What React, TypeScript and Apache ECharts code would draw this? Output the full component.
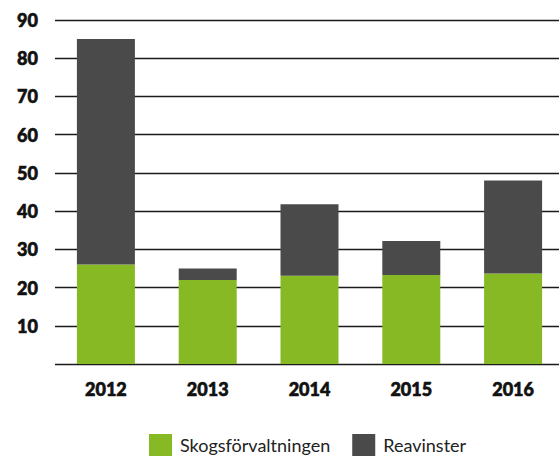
import React, { useEffect, useRef } from "react";
import * as echarts from "echarts";

const categories = ["2012", "2013", "2014", "2015", "2016"];
const skogsforvaltningen = [26.0, 22.0, 23.1, 23.3, 23.7];
const reavinster = [59.0, 3.0, 18.7, 8.9, 24.3];
const yTicks = { min: 0, max: 90, interval: 10 };

export default function App() {
  const ref = useRef<HTMLDivElement>(null);
  useEffect(() => {
    document.body.style.margin = "0";
    const chart = echarts.init(ref.current!, null, { renderer: "svg" });
    const axisFont = {
      fontFamily: "Lato",
      fontWeight: 900,
      fontSize: 18,
      color: "#111111",
      textBorderColor: "#111111",
      textBorderWidth: 0.6,
    };
    chart.setOption({
      animation: false,
      backgroundColor: "#ffffff",
      grid: { left: 55, right: 11, top: 20, bottom: 93, containLabel: false },
      legend: {
        left: 149,
        top: 434,
        padding: 0,
        itemWidth: 23,
        itemHeight: 22,
        itemGap: 22,
        icon: "rect",
        textStyle: { fontFamily: "Lato", fontSize: 18, color: "#222222", padding: [0, 0, 0, 3] },
        data: ["Skogsförvaltningen", "Reavinster"],
      },
      xAxis: {
        type: "category",
        data: categories,
        axisTick: { show: false },
        axisLine: { show: false },
        axisLabel: { margin: 16, ...axisFont },
      },
      yAxis: {
        type: "value",
        min: yTicks.min,
        max: yTicks.max,
        interval: yTicks.interval,
        axisLine: { show: false },
        axisTick: { show: false },
        splitLine: { lineStyle: { color: "#1a1a1a", width: 1.3 } },
        axisLabel: {
          margin: 17,
          ...axisFont,
          formatter: (v: number) => (v === 0 ? "" : String(v)),
        },
      },
      series: [
        {
          name: "Skogsförvaltningen",
          type: "bar",
          stack: "total",
          barWidth: 58,
          data: skogsforvaltningen,
          itemStyle: { color: "#86b923" },
        },
        {
          name: "Reavinster",
          type: "bar",
          stack: "total",
          barWidth: 58,
          data: reavinster,
          itemStyle: { color: "#4a4a4a" },
        },
      ],
    });
    return () => chart.dispose();
  }, []);
  return (
    <div style={{ width: 559, height: 457, overflow: "hidden", position: "relative" }}>
      <div ref={ref} style={{ width: 575, height: 457 }} />
    </div>
  );
}
